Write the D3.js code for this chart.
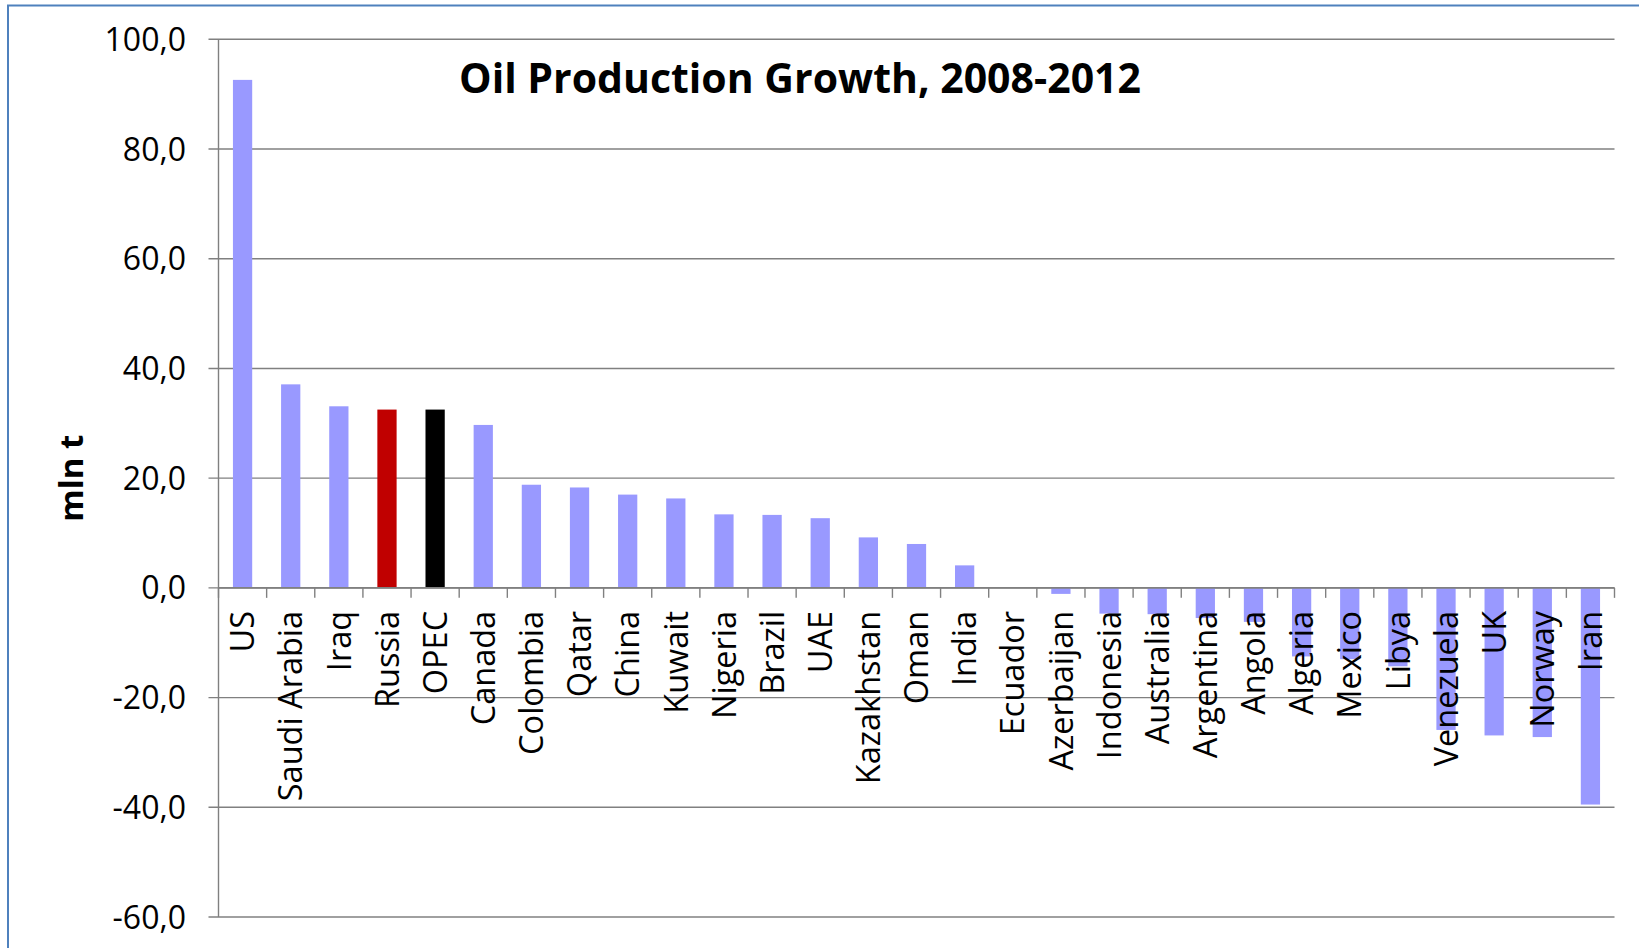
<!DOCTYPE html>
<html>
<head>
<meta charset="utf-8">
<script src="https://cdn.jsdelivr.net/npm/d3@7"></script>
<style>
  html, body { margin: 0; padding: 0; background: #ffffff; }
  svg { display: block; }
  text { font-family: "Open Sans", "DejaVu Sans", sans-serif; fill: #000; }
</style>
</head>
<body>
<script>
// Oil production change between 2008 and 2012, million tonnes
const categories = ["US", "Saudi Arabia", "Iraq", "Russia", "OPEC", "Canada", "Colombia", "Qatar",
  "China", "Kuwait", "Nigeria", "Brazil", "UAE", "Kazakhstan", "Oman", "India", "Ecuador",
  "Azerbaijan", "Indonesia", "Australia", "Argentina", "Angola", "Algeria", "Mexico", "Libya",
  "Venezuela", "UK", "Norway", "Iran"];
const growth = [92.6, 37.1, 33.1, 32.5, 32.5, 29.7, 18.8, 18.3,
  17.0, 16.3, 13.4, 13.3, 12.7, 9.2, 8.0, 4.1, 0.0,
  -1.1, -4.7, -4.8, -5.5, -6.2, -12.5, -13.0, -14.3,
  -25.9, -26.9, -27.2, -39.5];
const yTicks = [-60, -40, -20, 0, 20, 40, 60, 80, 100];
const title = "Oil Production Growth, 2008-2012";
const yTitle = "mln t";

const W = 1639, H = 948;
const plot = { left: 218.5, right: 1614.5, top: 39.3, bottom: 917 };
const barFill = "#9999FF";
const highlight = { Russia: "#C00000", OPEC: "#000000" };
const gridColor = "#808080";

const svg = d3.select("body").append("svg").attr("width", W).attr("height", H);

// chart frame
svg.append("rect")
  .attr("x", 8).attr("y", 5.5)
  .attr("width", W + 20).attr("height", H + 20)
  .attr("fill", "none").attr("stroke", "#4F81BD").attr("stroke-width", 2);

const x = d3.scaleBand()
  .domain(categories)
  .range([plot.left, plot.right])
  .paddingInner(0.6)
  .paddingOuter(0.3);

const y = d3.scaleLinear()
  .domain([d3.min(yTicks), d3.max(yTicks)])
  .range([plot.bottom, plot.top]);

// decimal comma and a plain hyphen for negatives
const fmt = d3.formatLocale({
  decimal: ",", thousands: " ", grouping: [3], currency: ["", ""], minus: "-"
}).format(".1f");

// horizontal gridlines with short ticks left of the axis
svg.append("g").selectAll("line")
  .data(yTicks)
  .join("line")
  .attr("x1", plot.left - 10).attr("x2", plot.right)
  .attr("y1", d => y(d)).attr("y2", d => y(d))
  .attr("stroke", gridColor).attr("stroke-width", 1.4);

// value axis labels
svg.append("g").selectAll("text")
  .data(yTicks)
  .join("text")
  .attr("x", 186).attr("y", d => y(d))
  .attr("dy", "0.36em")
  .attr("text-anchor", "end")
  .style("font-size", "32px")
  .text(d => fmt(d));

// vertical axis line
svg.append("line")
  .attr("x1", plot.left).attr("x2", plot.left)
  .attr("y1", plot.top).attr("y2", plot.bottom)
  .attr("stroke", gridColor).attr("stroke-width", 1.4);

// bars
svg.append("g").selectAll("rect")
  .data(categories.map((c, i) => ({ c, v: growth[i] })))
  .join("rect")
  .attr("x", d => x(d.c))
  .attr("width", x.bandwidth())
  .attr("y", d => y(Math.max(0, d.v)))
  .attr("height", d => Math.abs(y(d.v) - y(0)))
  .attr("fill", d => highlight[d.c] || barFill);

// category boundary ticks below the zero line
const step = x.step();
svg.append("g").selectAll("line")
  .data(d3.range(categories.length + 1))
  .join("line")
  .attr("x1", i => plot.left + i * step).attr("x2", i => plot.left + i * step)
  .attr("y1", y(0)).attr("y2", y(0) + 10)
  .attr("stroke", gridColor).attr("stroke-width", 1.4);

// zero line
svg.append("line")
  .attr("x1", plot.left).attr("x2", plot.right)
  .attr("y1", y(0)).attr("y2", y(0))
  .attr("stroke", gridColor).attr("stroke-width", 1.6);

// rotated category labels
svg.append("g").selectAll("text")
  .data(categories)
  .join("text")
  .attr("transform", d => `translate(${x(d) + x.bandwidth() / 2},${y(0) + 23}) rotate(-90)`)
  .attr("dy", "0.36em")
  .attr("text-anchor", "end")
  .style("font-size", "32.5px")
  .text(d => d);

// axis title
svg.append("text")
  .attr("transform", `translate(83,${(plot.top + plot.bottom) / 2}) rotate(-90)`)
  .attr("text-anchor", "middle")
  .style("font-size", "33px")
  .style("font-weight", "bold")
  .text(yTitle);

// chart title
svg.append("text")
  .attr("x", 800).attr("y", 93)
  .attr("text-anchor", "middle")
  .style("font-size", "41px")
  .style("font-weight", "bold")
  .text(title);
</script>
</body>
</html>
